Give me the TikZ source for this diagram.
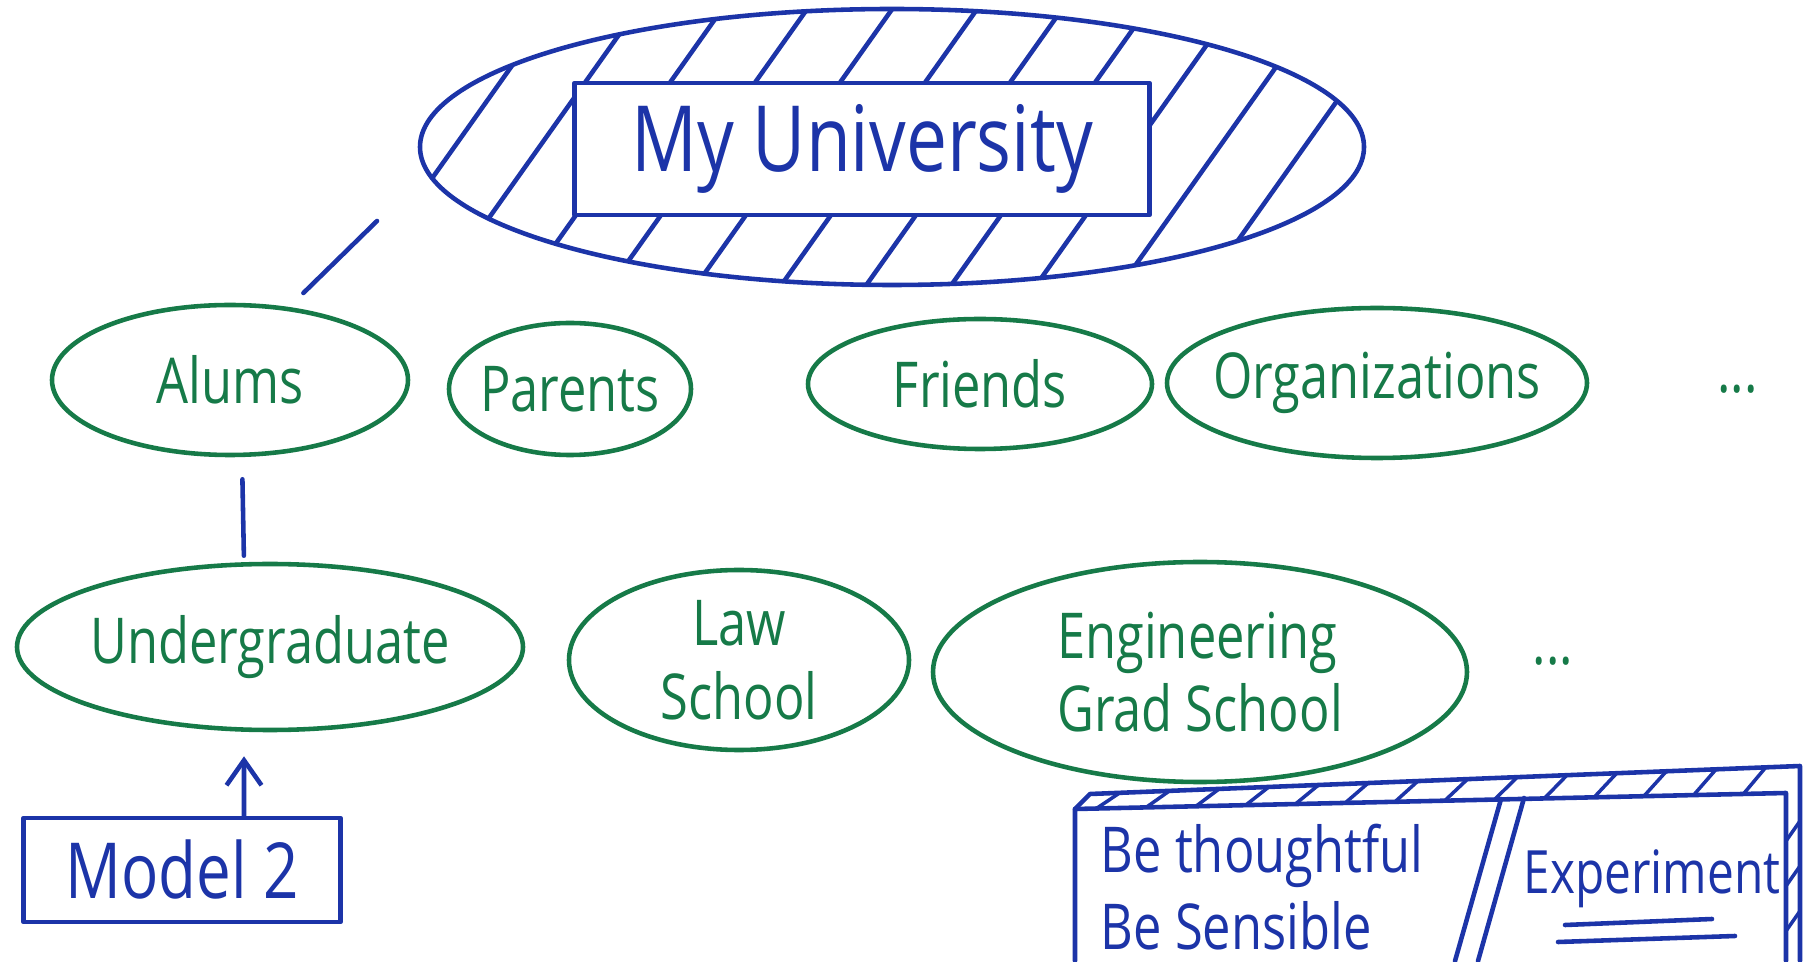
\documentclass[tikz,border=0pt]{standalone}
\usepackage{fontspec}
\setmainfont{Open Sans}[FakeStretch=0.8]
\usetikzlibrary{arrows.meta, calc, shapes.geometric}
\definecolor{inkblue}{RGB}{28,52,168}
\definecolor{inkgreen}{RGB}{22,122,72}
\tikzset{
    ink/.style={line width=1.3pt, line cap=round, line join=round},
    bareB/.style={ink, draw=inkblue, text=inkblue},
    grp/.style args={#1 #2}{ink, draw=inkgreen, text=inkgreen, ellipse, inner sep=-3mm,
        minimum width=#1, minimum height=#2, align=center,
        font=\fontsize{18}{21}\selectfont},
    dots/.style={text=inkgreen, font=\fontsize{18}{21}\selectfont}
}
\begin{document}
\begin{tikzpicture}
    \useasboundingbox (0,0) rectangle (18.04,9.61);
    \clip (0,0) rectangle (18.04,9.61);
    % hatched oval with the name box on top
    \node[bareB, ellipse, minimum width=9.44cm, minimum height=2.76cm] (univ) at (8.92,8.14) {};
    \begin{scope}
    \clip (8.92,8.14) ellipse (4.72 and 1.38);
    \foreach \x in {2.6,3.45,...,14.5}{
    \draw[ink, inkblue] (\x,6.6) -- ++(2.2,3.1);}
    \end{scope}
    \node[bareB, fill=white, minimum width=5.75cm, minimum height=1.32cm,
        font=\fontsize{26}{30}\selectfont] (name) at (8.62,8.12) {My University};
    % first row
    \node[grp={3.56cm 1.50cm}] (alums) at (2.30,5.81) {Alums};
    \node[grp={2.42cm 1.32cm}] (parents) at (5.70,5.72) {Parents};
    \node[grp={3.44cm 1.30cm}] (friends) at (9.80,5.77) {Friends};
    \node[grp={4.20cm 1.50cm}] (orgs) at (13.77,5.78) {Organizations};
    \node[dots, anchor=west] (more1) at (17.05,5.72) {...};
    % second row
    \node[grp={5.06cm 1.66cm}] (ugrad) at (2.70,3.14) {Undergraduate};
    \node[grp={3.40cm 1.80cm}] (law) at (7.39,3.01) {Law\\School};
    \node[grp={5.34cm 2.20cm}, align=left] (eng) at (12.00,2.89) {Engineering\\Grad School};
    \node[dots] (more2) at (15.53,3.00) {...};
    \coordinate (toUniv) at (3.77,7.40);
    \draw[bareB, shorten <=2mm] (alums.51) -- (toUniv);
    \draw[bareB, shorten <=2.2mm, shorten >=0.6mm] ([xshift=1.2mm]alums.south) -- ([xshift=-2.6mm]ugrad.north);
    \node[bareB, minimum width=3.17cm, minimum height=1.04cm,
        font=\fontsize{22}{26}\selectfont] (model) at (1.82,0.91) {Model 2};
    \draw[bareB, -{Straight Barb[length=2.5mm, width=3.5mm]}, shorten >=2.4mm]
        ([xshift=6.2mm]model.north) -- ([xshift=-2.6mm]ugrad.south);
    % slab box, bottom right
    \coordinate (fl) at (10.75,1.52);
    \coordinate (fr) at (17.86,1.68);
    \coordinate (bl) at (10.90,1.67);
    \coordinate (br) at (18.00,1.95);
    \draw[bareB] (10.75,0) -- (fl) -- (fr) -- (17.86,0);
    \draw[bareB] (fl) -- (bl) -- (br) -- (18.00,0);
    \foreach \t in {0.03,0.1,...,0.97}{
    \draw[bareB, line width=1pt] ($(fl)!\t!(fr)$) -- ($(bl)!\t!(br)+(0.08,0)$);}
    \foreach \y in {0.3,0.75,1.2}{
    \draw[bareB, line width=1pt] (17.86,\y) -- (18.00,\y+0.2);}
    \draw[bareB] (15.01,1.62) -- (14.55,0);
    \draw[bareB] (15.24,1.63) -- (14.78,0);
    \node[bareB, draw=none, align=left, anchor=west, inner sep=1pt,
        font=\fontsize{18}{22}\selectfont] (calm) at (10.95,0.74) {Be thoughtful\\Be Sensible};
    \node[bareB, draw=none, inner sep=1pt, font=\fontsize{17}{20}\selectfont] (exp) at (16.52,0.82) {Experiment};
    \draw[bareB] (15.65,0.36) -- (17.12,0.42);
    \draw[bareB] (15.58,0.19) -- (17.35,0.25);
\end{tikzpicture}
\end{document}
